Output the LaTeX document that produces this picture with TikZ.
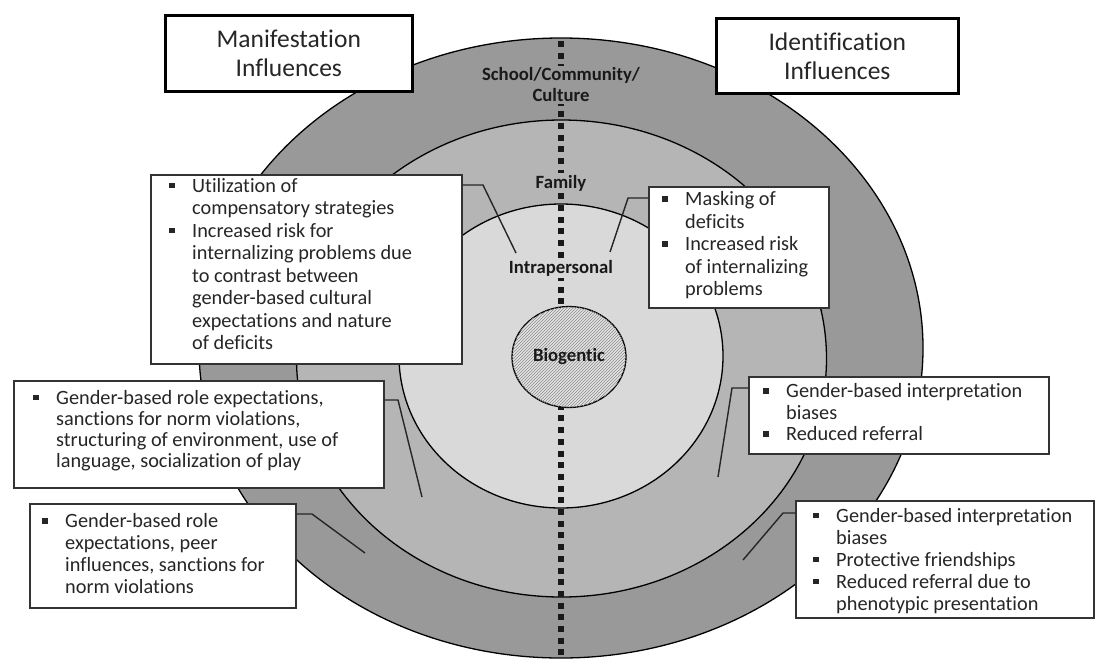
\documentclass[tikz,border=0pt]{standalone}
\usepackage{fontspec}
\setmainfont{Carlito}[Ligatures={NoCommon}]
\usetikzlibrary{patterns,shapes.geometric}
\definecolor{outerg}{HTML}{999999}
\definecolor{midg}{HTML}{B5B5B5}
\definecolor{innerg}{HTML}{D9D9D9}
\definecolor{txt}{HTML}{262626}
\newcommand{\bul}{\rule[3.7pt]{5.5pt}{5.5pt}}
\newcommand{\blist}[3]{{\fontsize{#1}{#2}\selectfont\begin{tabular}[t]{@{}p{23pt}@{}l@{}}#3\end{tabular}}}
\begin{document}
\begin{tikzpicture}[x=1pt,y=-1pt,
  titlebox/.style={draw=black, line width=2.6pt, fill=white, inner sep=0pt, anchor=north west, align=center, text=txt, font=\fontsize{25.5}{29}\selectfont},
  tbox/.style={draw=black!80, line width=1.6pt, fill=white, inner sep=0pt, anchor=north west},
  btext/.style={anchor=base west, inner sep=0pt, text=txt},
  lvl/.style={font=\bfseries\fontsize{18.7}{21}\selectfont, text=black!90, inner sep=2pt},
  conn/.style={draw=black!85, line width=1.4pt},
  ring/.style={draw=black, line width=1.3pt}]
\useasboundingbox (0,0) rectangle (1099,659);
\fill[white] (0,0) rectangle (1099,659);
% rings
\draw[ring, fill=outerg] (561,348) ellipse [x radius=362pt, y radius=310pt];
\draw[ring, fill=midg] (561.5,358.5) ellipse [x radius=265pt, y radius=238.5pt];
\draw[ring, fill=innerg] (561,356) ellipse [x radius=162pt, y radius=152pt];
% dotted divider
\coordinate (dtop) at (561,41);
\coordinate (dbot) at (561,662);
\draw[line width=6pt, dash pattern=on 6pt off 5.7pt, color=black!90] (dtop) -- (dbot);
% level labels
\node[lvl, fill=outerg, align=center] (school) at (561,85) {School/Community/\\Culture};
\node[lvl, fill=midg] (family) at (561,183) {Family};
\node[lvl, fill=innerg] (intra) at (561,268) {Intrapersonal};
\node[ellipse, draw=black, line width=1.3pt, minimum width=114pt, minimum height=101pt, inner sep=0pt,
      fill=innerg!70!white, postaction={pattern=north east lines, pattern color=black!45},
      font=\bfseries\fontsize{18.7}{21}\selectfont, text=black!90] (bio) at (569,357) {Biogentic};
% title boxes
\node[titlebox, minimum width=247pt, minimum height=76pt] (manif) at (164,14) {Manifestation\\Influences};
\node[titlebox, minimum width=242pt, minimum height=75pt] (ident) at (715,17) {Identification\\Influences};
% connector bends and ends
\coordinate (k3a) at (483,185); \coordinate (k3b) at (516,253);
\coordinate (k4a) at (628,198); \coordinate (k4b) at (610,252);
\coordinate (k5a) at (398,400); \coordinate (k5b) at (422,497);
\coordinate (k6a) at (732,388); \coordinate (k6b) at (718,477);
\coordinate (k7a) at (312,514); \coordinate (k7b) at (365,553);
\coordinate (k8a) at (783,513); \coordinate (k8b) at (743,560);
% text boxes
\node[tbox, minimum width=311pt, minimum height=189pt] (b3) at (150,174) {};
\node[tbox, minimum width=180pt, minimum height=121pt] (b4) at (648,186) {};
\node[tbox, minimum width=370pt, minimum height=107pt] (b5) at (13,380) {};
\node[tbox, minimum width=300pt, minimum height=77pt] (b6) at (748,376) {};
\node[tbox, minimum width=266pt, minimum height=104pt] (b7) at (29,503) {};
\node[tbox, minimum width=298pt, minimum height=117pt] (b8) at (795,500) {};
% connectors
\draw[conn] (b3.east |- k3a) -- (k3a) -- (k3b);
\draw[conn] (b4.west |- k4a) -- (k4a) -- (k4b);
\draw[conn] (b5.east |- k5a) -- (k5a) -- (k5b);
\draw[conn] (b6.west |- k6a) -- (k6a) -- (k6b);
\draw[conn] (b7.east |- k7a) -- (k7a) -- (k7b);
\draw[conn] (b8.west |- k8a) -- (k8a) -- (k8b);
% box texts
\node[btext] (t3) at (169,192) {\blist{20.3}{22.5}{\bul & Utilization of\\ & compensatory strategies\\ \bul & Increased risk for\\ & internalizing problems due\\ & to contrast between\\ & gender-based cultural\\ & expectations and nature\\ & of deficits}};
\node[btext] (t4) at (662,205.5) {\blist{20.3}{22.5}{\bul & Masking of\\ & deficits\\ \bul & Increased risk\\ & of internalizing\\ & problems}};
\node[btext] (t5) at (33,404) {\blist{20.3}{21}{\bul & Gender-based role expectations,\\ & sanctions for norm violations,\\ & structuring of environment, use of\\ & language, socialization of play}};
\node[btext] (t6) at (763,397.5) {\blist{20.3}{21.5}{\bul & Gender-based interpretation\\ & biases\\ \bul & Reduced referral}};
\node[btext] (t7) at (42,527.5) {\blist{20.3}{22}{\bul & Gender-based role\\ & expectations, peer\\ & influences, sanctions for\\ & norm violations}};
\node[btext] (t8) at (813,522) {\blist{20.3}{22}{\bul & Gender-based interpretation\\ & biases\\ \bul & Protective friendships\\ \bul & Reduced referral due to\\ & phenotypic presentation}};
\end{tikzpicture}
\end{document}
